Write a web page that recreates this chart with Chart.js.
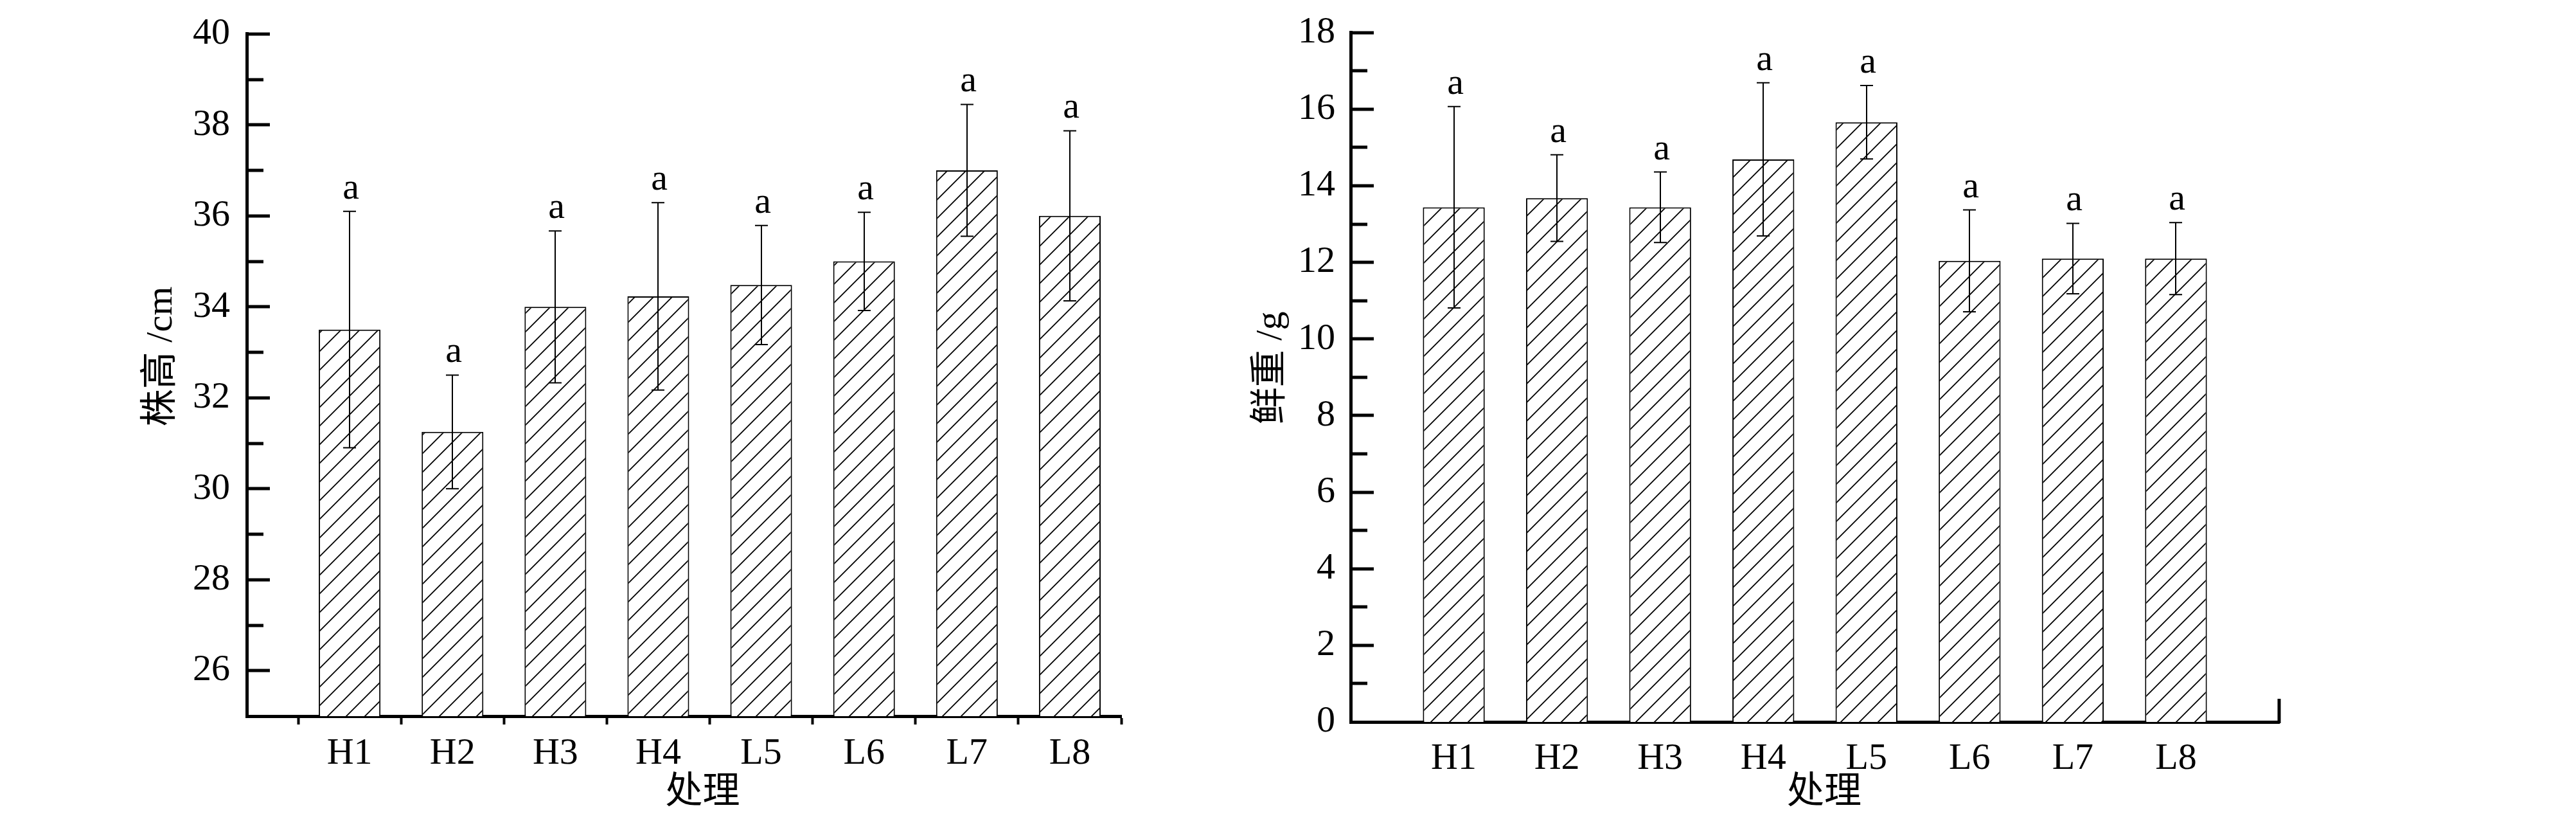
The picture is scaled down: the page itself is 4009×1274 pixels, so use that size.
<!DOCTYPE html>
<html>
<head>
<meta charset="utf-8">
<title>株高与鲜重</title>
<script src="https://cdn.jsdelivr.net/npm/chart.js@4.4.1/dist/chart.umd.min.js"></script>
<style>
    html, body { margin: 0; padding: 0; background: #fff; }
    body { width: 4009px; height: 1274px; position: relative; overflow: hidden; }
    canvas { position: absolute; top: 0; }
    #heightChart { left: 0; }
    #weightChart { left: 1900px; }
</style>
</head>
<body>
<canvas id="heightChart" width="1900" height="1274"></canvas>
<canvas id="weightChart" width="2109" height="1274"></canvas>
<script>
// treatments
const categories = ['H1', 'H2', 'H3', 'H4', 'L5', 'L6', 'L7', 'L8'];

// plant height (cm) with SD
const plantHeight = [33.5, 31.25, 34.0, 34.23, 34.48, 35.0, 37.0, 36.0];
const plantHeightErr = [2.6, 1.25, 1.67, 2.06, 1.31, 1.08, 1.45, 1.87];
const heightLetters = ['a', 'a', 'a', 'a', 'a', 'a', 'a', 'a'];
const heightRange = [25, 40];

// fresh weight (g) with SD
const freshWeight = [13.44, 13.68, 13.44, 14.69, 15.66, 12.04, 12.1, 12.1];
const freshWeightErr = [2.63, 1.13, 0.92, 2.0, 0.96, 1.33, 0.92, 0.94];
const weightLetters = ['a', 'a', 'a', 'a', 'a', 'a', 'a', 'a'];
const weightRange = [0, 18];

document.addEventListener('DOMContentLoaded', function () {
    Chart.defaults.font.family = '"Liberation Serif", "Noto Sans CJK SC", serif';
    Chart.defaults.color = '#000';

    // diagonal hatch fill like the original figure
    function makeHatch(ctx) {
        const size = 29;
        const c = document.createElement('canvas');
        c.width = size;
        c.height = size;
        const g = c.getContext('2d');
        g.fillStyle = '#fff';
        g.fillRect(0, 0, size, size);
        g.strokeStyle = '#000';
        g.lineWidth = 1.8;
        g.beginPath();
        g.moveTo(0, size); g.lineTo(size, 0);
        g.moveTo(-3, 3); g.lineTo(3, -3);
        g.moveTo(size - 3, size + 3); g.lineTo(size + 3, size - 3);
        g.stroke();
        return ctx.createPattern(c, 'repeat');
    }

    // error bars + significance letters
    const errorBars = {
        id: 'errorBars',
        afterDatasetsDraw(chart, args, opts) {
            const { ctx, scales: { y } } = chart;
            const meta = chart.getDatasetMeta(0);
            const points = chart.data.datasets[0].data;
            ctx.save();
            ctx.strokeStyle = '#000';
            ctx.fillStyle = '#000';
            ctx.lineWidth = 2;
            ctx.font = '58px "Liberation Serif"';
            ctx.textAlign = 'center';
            ctx.textBaseline = 'alphabetic';
            meta.data.forEach((bar, i) => {
                const v = points[i].y;
                const e = opts.errors[i];
                const top = y.getPixelForValue(v + e);
                const bot = y.getPixelForValue(v - e);
                const x = Math.round(bar.x);
                ctx.beginPath();
                ctx.moveTo(x, top); ctx.lineTo(x, bot);
                ctx.moveTo(x - 10, top); ctx.lineTo(x + 10, top);
                ctx.moveTo(x - 10, bot); ctx.lineTo(x + 10, bot);
                ctx.stroke();
                ctx.fillText(opts.letters[i], x + 2, top - 20);
            });
            ctx.restore();
        }
    };

    // inward major/minor ticks on the y axis
    const axisTicks = {
        id: 'axisTicks',
        afterDraw(chart, args, opts) {
            const { ctx, chartArea, scales: { y } } = chart;
            ctx.save();
            ctx.strokeStyle = '#000';
            ctx.lineWidth = 5;
            for (let v = Math.ceil(y.min) + 1; v <= y.max; v++) {
                const py = Math.round(y.getPixelForValue(v));
                const len = v % 2 === 0 ? 36 : 26;
                ctx.beginPath();
                ctx.moveTo(chartArea.left, py);
                ctx.lineTo(chartArea.left + len, py);
                ctx.stroke();
            }
            if (opts.rightStub) {
                ctx.beginPath();
                ctx.moveTo(chartArea.right, chartArea.bottom + 2);
                ctx.lineTo(chartArea.right, chartArea.bottom - 36);
                ctx.stroke();
            }
            ctx.restore();
        }
    };

    function buildChart(canvasId, o) {
        const ctx = document.getElementById(canvasId).getContext('2d');
        return new Chart(ctx, {
            type: 'bar',
            data: {
                datasets: [{
                    data: o.values.map((v, i) => ({ x: i, y: v })),
                    backgroundColor: makeHatch(ctx),
                    borderColor: '#000',
                    borderWidth: 2,
                    borderSkipped: 'start',
                    barPercentage: 0.6,
                    categoryPercentage: 1
                }]
            },
            options: {
                responsive: false,
                animation: false,
                layout: { padding: o.padding },
                plugins: {
                    legend: { display: false },
                    tooltip: { enabled: false },
                    errorBars: { errors: o.errors, letters: o.letters },
                    axisTicks: { rightStub: o.rightStub }
                },
                scales: {
                    x: {
                        type: 'linear',
                        offset: false,
                        min: -1,
                        max: o.xMax,
                        afterBuildTicks: s => { s.ticks = categories.map((c, i) => ({ value: i })); },
                        afterFit: s => { s.height = o.xHeight; },
                        ticks: {
                            autoSkip: false,
                            maxRotation: 0,
                            padding: o.xLabelPad,
                            font: { size: 58 },
                            callback: (v, i) => categories[i]
                        },
                        grid: o.xGrid,
                        border: { display: true, color: '#000', width: 5 },
                        title: {
                            display: true,
                            text: o.xTitle,
                            font: { size: 58 },
                            padding: { top: 0, bottom: 5 }
                        }
                    },
                    y: {
                        min: o.yRange[0],
                        max: o.yRange[1],
                        afterFit: s => { s.width = o.yWidth; },
                        ticks: {
                            stepSize: 1,
                            autoSkip: false,
                            padding: o.yLabelPad,
                            font: { size: 58 },
                            callback: v => (v % 2 === 0 ? v : '')
                        },
                        grid: { display: false },
                        border: { display: true, color: '#000', width: 5 },
                        title: {
                            display: true,
                            text: o.yTitle,
                            font: { size: 58 },
                            padding: { top: o.yTitlePad, bottom: 0 }
                        }
                    }
                }
            },
            plugins: [errorBars, axisTicks]
        });
    }

    // --- 株高 ---
    buildChart('heightChart', {
        values: plantHeight,
        errors: plantHeightErr,
        letters: heightLetters,
        yRange: heightRange,
        xMax: 7.5,
        padding: { left: 0, top: 43, right: 155, bottom: 0 },
        yWidth: 384,
        xHeight: 160,
        xLabelPad: 11,
        yLabelPad: 18,
        yTitlePad: 217,
        xTitle: '\u3000处理',
        yTitle: '\u3000株高 /cm',
        xGrid: { display: true, drawOnChartArea: false, offset: true, drawTicks: true, tickLength: 13, tickWidth: 4, tickColor: '#000' },
        rightStub: false
    });

    // --- 鲜重 ---
    buildChart('weightChart', {
        values: freshWeight,
        errors: freshWeightErr,
        letters: weightLetters,
        yRange: weightRange,
        xMax: 8,
        padding: { left: 0, top: 49, right: 462, bottom: 0 },
        yWidth: 202,
        xHeight: 151,
        xLabelPad: 15,
        yLabelPad: 16,
        yTitlePad: 44,
        xTitle: '\u2002处理',
        yTitle: '\u2002鲜重 /g',
        xGrid: { display: false },
        rightStub: true
    });
});
</script>
</body>
</html>
